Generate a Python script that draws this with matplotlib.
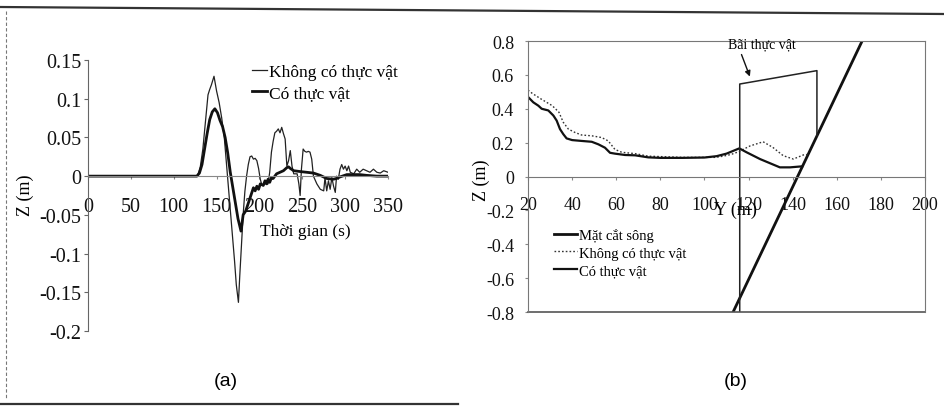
import matplotlib.pyplot as plt
import numpy as np

plt.rcParams['font.family'] = ['Liberation Serif', 'DejaVu Serif']

# (a) water level time series
t_khong = [0, 125, 128, 131, 134, 137, 140, 142, 144, 147, 150, 153, 156, 159, 162, 165,
           168, 171, 173, 175.5, 177, 179, 181, 183, 185, 187, 189, 191, 193, 195, 197, 199,
           201, 203, 206, 210, 212, 214, 216, 218, 220, 222, 224, 226, 228, 230, 232, 234,
           236, 238, 240, 244, 246, 247.5, 249, 251, 253, 255, 257, 259, 261, 263, 267, 271,
           275, 276.5, 278.5, 280.5, 282.5, 284.5, 286.5, 288.5, 290, 292, 294, 296, 298,
           300, 302, 304, 306, 310, 313.5, 317, 321, 325, 329, 333, 337, 341, 345, 350]
z_khong = [0, 0, 0.001, 0.012, 0.035, 0.07, 0.105, 0.112, 0.118, 0.129, 0.11, 0.095, 0.075,
           0.05, 0.01, -0.03, -0.07, -0.11, -0.14, -0.163, -0.13, -0.09, -0.05, -0.02, 0.0,
           0.015, 0.025, 0.026, 0.022, 0.023, 0.02, 0.01, -0.004, -0.012, -0.01, -0.01, 0.005,
           0.031, 0.045, 0.056, 0.058, 0.061, 0.056, 0.063, 0.055, 0.048, 0.013, 0.02, 0.033,
           0.013, 0.003, 0.003, -0.01, -0.025, 0.009, 0.035, 0.032, 0.031, 0.032, 0.031, 0.022,
           0.0, -0.01, -0.017, -0.019, -0.002, -0.019, -0.006, -0.017, -0.002, -0.013, -0.021,
           0.0, -0.004, 0.009, 0.015, 0.009, 0.013, 0.007, 0.013, 0.005, 0.003, 0.009, 0.005,
           0.009, 0.007, 0.005, 0.009, 0.005, 0.004, 0.007, 0.005]

t_co = [0, 127, 130, 133, 136, 139, 142, 145, 148, 151, 154, 157, 160, 163, 166, 169, 172,
        175, 178.5, 181, 184, 187, 190, 193, 195, 197, 199, 201, 204.5, 206.5, 208.5, 210,
        212, 214, 216, 220, 224, 228, 232, 234, 236, 240, 247, 255, 263, 271, 278.5, 286,
        290, 294, 302, 310, 317, 325, 337, 350]
z_co = [0, 0, 0.004, 0.015, 0.035, 0.055, 0.073, 0.083, 0.087, 0.082, 0.072, 0.064, 0.05,
        0.03, 0.005, -0.015, -0.035, -0.055, -0.071, -0.05, -0.045, -0.035, -0.025, -0.015,
        -0.019, -0.013, -0.017, -0.01, -0.012, -0.006, -0.01, -0.004, -0.008, -0.002, -0.003,
        0.003, 0.005, 0.007, 0.011, 0.012, 0.01, 0.007, 0.006, 0.005, 0.004, 0.001, -0.003,
        -0.004, -0.003, -0.001, 0.002, 0.002, 0.002, 0.001, 0.0, 0.0]

# (b) cross section
y_song = [113, 171.5]
z_song = [-0.8, 0.8]
y_bai = [116, 116, 151, 151]
z_bai = [-0.8, 0.546, 0.625, 0.24]
y_khong = [20, 22, 26, 31, 34, 36, 38.3, 41.3, 44.3, 49, 53.4, 56.4, 59.4, 62.5, 68.6, 74.5,
           90, 105, 108.5, 112, 115.3, 120.6, 126.6, 131, 135.7, 140.3, 144.8, 146.7]
zb_khong = [0.51, 0.49, 0.457, 0.418, 0.38, 0.32, 0.28, 0.26, 0.245, 0.24, 0.23, 0.21, 0.16,
            0.143, 0.135, 0.12, 0.113, 0.113, 0.12, 0.13, 0.145, 0.18, 0.205, 0.172, 0.123,
            0.103, 0.127, 0.13]
y_co = [20, 22.4, 24.7, 26.2, 29.2, 31.5, 33, 34.5, 36, 37.5, 40, 44.3, 48.9, 51.9, 54.9,
        57.2, 59.4, 64, 68.6, 74.5, 80, 90, 100, 105.5, 110, 115.8, 119.1, 125.2, 134.2,
        138.8, 144.3]
zb_co = [0.47, 0.438, 0.418, 0.40, 0.39, 0.36, 0.33, 0.28, 0.25, 0.225, 0.215, 0.21, 0.205,
         0.19, 0.17, 0.14, 0.135, 0.127, 0.125, 0.113, 0.11, 0.11, 0.112, 0.12, 0.135, 0.166,
         0.143, 0.103, 0.054, 0.054, 0.06]

fig = plt.figure(figsize=(9.44, 4.10), dpi=100)

# scanned page border
fig.add_artist(plt.Line2D([0, 1], [1 - 8 / 410, 1 - 15 / 410], color='#333', lw=1.6))
fig.add_artist(plt.Line2D([0, 0.485], [1 - 405 / 410, 1 - 405 / 410], color='#333', lw=1.6))
fig.add_artist(plt.Line2D([6 / 944, 6 / 944], [1 - 12 / 410, 1 - 400 / 410], color='#777',
                          lw=0.8, ls=(0, (3, 2))))

# ---- panel (a)
ax = fig.add_axes([88 / 944, 1 - 332 / 410, 300 / 944, 271 / 410])
ax.plot(t_khong, z_khong, color='#222', lw=0.9, label='Không có thực vật')
ax.plot(t_co, z_co, color='#111', lw=2.0, label='Có thực vật')
ax.set_xlim(0, 350)
ax.set_ylim(-0.2, 0.15)
ax.spines['top'].set_visible(False)
ax.spines['right'].set_visible(False)
ax.spines['bottom'].set_position(('data', 0))
ax.spines['left'].set_color('#666')
ax.spines['bottom'].set_color('#888')
ax.spines['left'].set_linewidth(0.8)
ax.spines['bottom'].set_linewidth(0.8)
ax.set_xticks(np.arange(0, 351, 50))
ax.set_yticks([-0.2, -0.15, -0.1, -0.05, 0, 0.05, 0.1, 0.15])
ax.set_yticklabels(['-0.2', '-0.15', '-0.1', '-0.05', '0', '0.05', '0.1', '0.15'])
ax.tick_params(axis='x', labelsize=14.5, length=2, pad=13, colors='#888', labelcolor='#111')
ax.tick_params(axis='y', labelsize=14.5, length=3, pad=2, colors='#666', labelcolor='#111')
fig.text(25 / 944, 1 - 195 / 410, 'Z (m)', rotation=90, fontsize=13, ha='center', va='center')
fig.text(305 / 944, 1 - 232 / 410, 'Thời gian (s)', fontsize=12.5, ha='center', va='center')
ax.legend(loc='upper left', bbox_to_anchor=(252 / 944, 1 - 65 / 410),
          bbox_transform=fig.transFigure, frameon=False, fontsize=12.5, handlelength=0.85,
          handletextpad=0.15, labelspacing=0.3, borderpad=0, borderaxespad=0)
fig.text(226 / 944, 1 - 382 / 410, '(a)', fontsize=14, ha='center', va='center',
         family=['Liberation Sans', 'DejaVu Sans'])

# ---- panel (b)
bx = fig.add_axes([528 / 944, 1 - 313 / 410, 397 / 944, 271 / 410])
bx.plot(y_song, z_song, color='#111', lw=2.0, label='Mặt cắt sông')
bx.plot(y_khong, zb_khong, color='#333', lw=1.0, ls=(0, (1.2, 1.5)), label='Không có thực vật')
bx.plot(y_co, zb_co, color='#111', lw=1.6, label='Có thực vật')
bx.plot(y_bai, z_bai, color='#222', lw=1.1)
bx.set_xlim(20, 200)
bx.set_ylim(-0.8, 0.8)
bx.spines['bottom'].set_position(('data', 0))
for s in ['top', 'right', 'left', 'bottom']:
    bx.spines[s].set_color('#777')
    bx.spines[s].set_linewidth(0.8)
bx.plot([0, 1], [0, 0], transform=bx.transAxes, color='#555', lw=1.2, clip_on=False)
bx.set_xticks(np.arange(20, 201, 20))
bx.set_yticks(np.arange(-0.8, 0.81, 0.2))
bx.set_yticklabels(['-0.8', '-0.6', '-0.4', '-0.2', '0', '0.2', '0.4', '0.6', '0.8'])
bx.tick_params(axis='x', labelsize=13, length=2, pad=12, colors='#888', labelcolor='#111')
bx.tick_params(axis='y', labelsize=13, length=2, pad=8, colors='#888', labelcolor='#111')
fig.text(481 / 944, 1 - 180 / 410, 'Z (m)', rotation=90, fontsize=13, ha='center', va='center')
fig.text(735 / 944, 1 - 210 / 410, 'Y (m)', fontsize=13, ha='center', va='center')
bx.text(126, 0.78, 'Bãi thực vật', fontsize=10, ha='center', va='center')
bx.annotate('', xy=(120.6, 0.59), xytext=(116.8, 0.72),
            arrowprops=dict(arrowstyle='-|>', color='#111', lw=1.0, mutation_scale=8,
                            shrinkA=0, shrinkB=0))
bx.legend(loc='upper left', bbox_to_anchor=(554 / 944, 1 - 229 / 410),
          bbox_transform=fig.transFigure, frameon=False, fontsize=10.5, handlelength=1.6,
          handletextpad=0.1, labelspacing=0.3, borderpad=0, borderaxespad=0)
fig.text(736 / 944, 1 - 382 / 410, '(b)', fontsize=14, ha='center', va='center',
         family=['Liberation Sans', 'DejaVu Sans'])

fig.savefig('out.png', dpi=100)
